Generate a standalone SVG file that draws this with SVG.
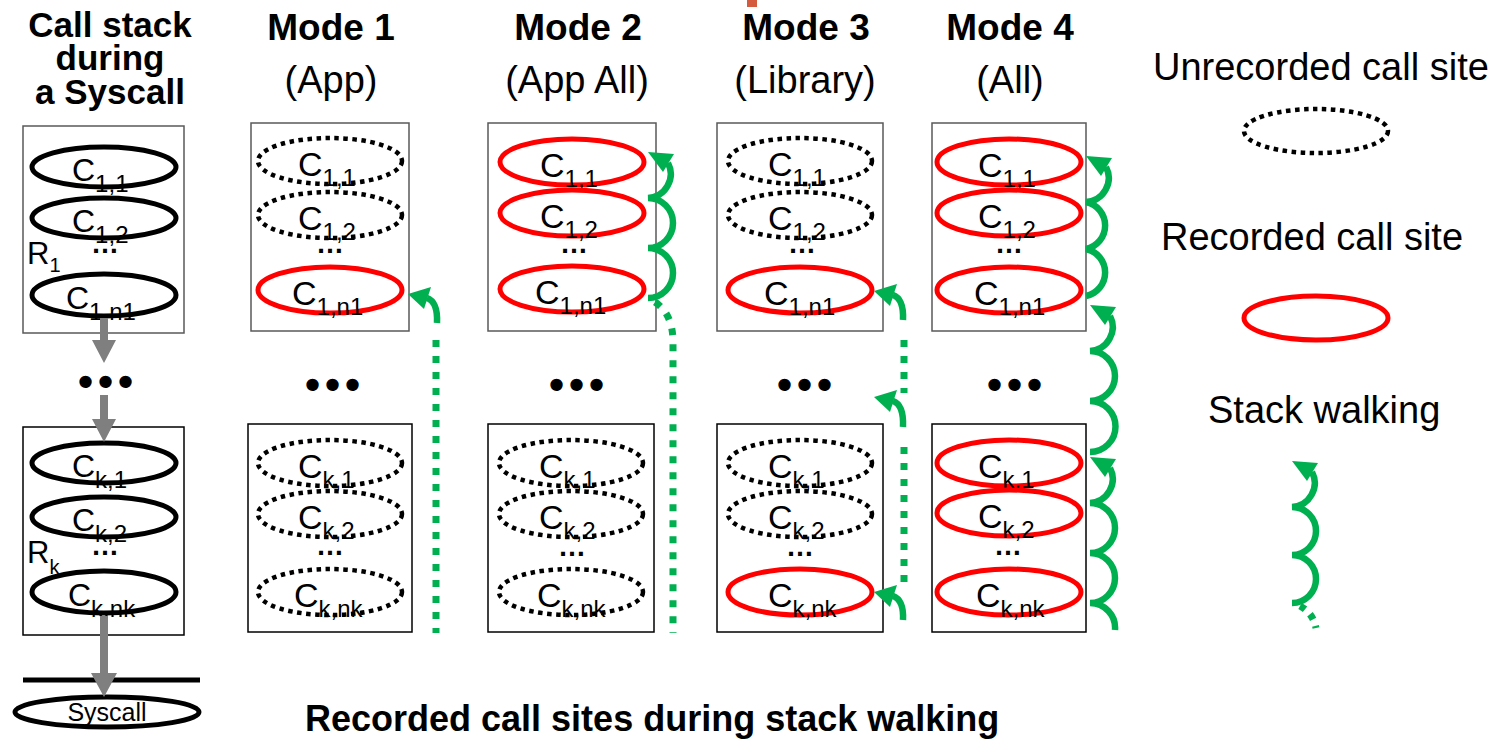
<svg xmlns="http://www.w3.org/2000/svg" width="1501" height="744" viewBox="0 0 1501 744">
<style>
text{font-family:"Liberation Sans",Arial,sans-serif;fill:#000}
.box{fill:none;stroke:#595959;stroke-width:1.5}
.boxk{fill:none;stroke:#000;stroke-width:1.5}
.solid{fill:none;stroke:#000;stroke-width:5}
.dot{fill:none;stroke:#000;stroke-width:4.5;stroke-dasharray:4.5 4.5}
.rec{fill:none;stroke:#FF0000;stroke-width:5}
.c{font-size:34px}
.cl{font-size:32px}
.s{font-size:24px}
.hd{font-weight:bold;font-size:37px;text-anchor:middle}
.sb{font-size:38px;text-anchor:middle}
.lg{font-size:38px}
.dd{font-weight:bold;font-size:28px;text-anchor:middle}
.bd{font-weight:bold;font-size:43px;letter-spacing:5px;text-anchor:middle}
.gw{fill:none;stroke:#00B050;stroke-width:6.5}
.gd{fill:none;stroke:#00B050;stroke-width:7;stroke-dasharray:7 9}
.gh{fill:#00B050}
.ga{fill:#7F7F7F}
</style>
<rect x="747" y="0" width="10" height="7" fill="#D55B3E"/>
<g id="headers">
<text class="hd" style="font-size:35px" x="110" y="37">Call stack</text>
<text class="hd" style="font-size:35px" x="110" y="70">during</text>
<text class="hd" style="font-size:35px" x="110" y="104">a Syscall</text>
<text class="hd" x="331" y="40">Mode 1</text>
<text class="sb" x="331" y="93">(App)</text>
<text class="hd" x="578" y="40">Mode 2</text>
<text class="sb" x="577" y="93">(App All)</text>
<text class="hd" x="806" y="40">Mode 3</text>
<text class="sb" x="805" y="93">(Library)</text>
<text class="hd" x="1010" y="40">Mode 4</text>
<text class="sb" x="1010" y="93">(All)</text>
</g>
<g id="box-l1"><rect class="box" x="23" y="126" width="161" height="207"/></g>
<g id="box-l2"><rect class="boxk" x="23" y="427" width="161" height="208"/></g>
<g id="box-m1a"><rect class="box" x="251" y="123" width="158" height="208"/></g>
<g id="box-m1b"><rect class="boxk" x="248" y="424" width="164" height="208"/></g>
<g id="box-m2a"><rect class="box" x="488" y="123" width="168" height="208"/></g>
<g id="box-m2b"><rect class="boxk" x="488" y="424" width="166" height="208"/></g>
<g id="box-m3a"><rect class="box" x="717" y="123" width="166" height="208"/></g>
<g id="box-m3b"><rect class="boxk" x="717" y="424" width="166" height="208"/></g>
<g id="box-m4a"><rect class="box" x="932" y="123" width="154" height="208"/></g>
<g id="box-m4b"><rect class="boxk" x="932" y="424" width="154" height="208"/></g>
<g id="l-c11"><ellipse class="solid" cx="104" cy="167" rx="72" ry="20"/><text class="cl" x="72" y="181">C<tspan class="s" dy="11">1,1</tspan></text></g>
<g id="l-c12"><ellipse class="solid" cx="104" cy="218" rx="72" ry="20"/><text class="cl" x="72" y="232">C<tspan class="s" dy="11">1,2</tspan></text></g>
<g id="l-c1n"><ellipse class="solid" cx="104" cy="295" rx="72" ry="21"/><text class="cl" x="66" y="309">C<tspan class="s" dy="11">1,n1</tspan></text></g>
<g id="l-ck1"><ellipse class="solid" cx="104" cy="463" rx="72" ry="20"/><text class="cl" x="72" y="477">C<tspan class="s" dy="11">k,1</tspan></text></g>
<g id="l-ck2"><ellipse class="solid" cx="104" cy="517" rx="72" ry="20"/><text class="cl" x="72" y="531">C<tspan class="s" dy="11">k,2</tspan></text></g>
<g id="l-ckn"><ellipse class="solid" cx="104" cy="592" rx="72" ry="21"/><text class="cl" x="68" y="606">C<tspan class="s" dy="11">k,nk</tspan></text></g>
<text class="dd" x="105" y="253">…</text>
<text class="dd" x="105" y="555">…</text>
<text style="font-size:31px" x="27" y="264">R<tspan style="font-size:20px" dy="8">1</tspan></text>
<text style="font-size:31px" x="27" y="563">R<tspan style="font-size:20px" dy="11">k</tspan></text>
<text class="bd" x="108" y="396">•••</text>
<line x1="23" y1="680" x2="200" y2="680" stroke="#000" stroke-width="5"/>
<g id="syscall"><ellipse class="solid" cx="107" cy="712" rx="92" ry="15"/><text x="107" y="721" style="font-size:25px;text-anchor:middle">Syscall</text></g>
<g id="m1-c11"><ellipse class="dot" cx="330" cy="161" rx="72" ry="23"/><text class="c" x="298" y="176">C<tspan class="s" dy="10">1,1</tspan></text></g>
<g id="m1-c12"><ellipse class="dot" cx="330" cy="215" rx="72" ry="23"/><text class="c" x="298" y="230">C<tspan class="s" dy="10">1,2</tspan></text></g>
<g id="m1-c1n"><ellipse class="rec" cx="330" cy="290" rx="72" ry="23"/><text class="c" x="292" y="305">C<tspan class="s" dy="10">1,n1</tspan></text></g>
<g id="m1-ck1"><ellipse class="dot" cx="330" cy="463" rx="72" ry="23"/><text class="c" x="298" y="478">C<tspan class="s" dy="10">k,1</tspan></text></g>
<g id="m1-ck2"><ellipse class="dot" cx="330" cy="514" rx="72" ry="23"/><text class="c" x="298" y="529">C<tspan class="s" dy="10">k,2</tspan></text></g>
<g id="m1-ckn"><ellipse class="dot" cx="330" cy="592" rx="72" ry="23"/><text class="c" x="294" y="607">C<tspan class="s" dy="10">k,nk</tspan></text></g>
<text class="dd" x="330" y="253">…</text>
<text class="dd" x="330" y="555">…</text>
<text class="bd" x="335" y="399">•••</text>
<g id="m2-c11"><ellipse class="rec" cx="572" cy="162" rx="72" ry="23"/><text class="c" x="540" y="177">C<tspan class="s" dy="10">1,1</tspan></text></g>
<g id="m2-c12"><ellipse class="rec" cx="572" cy="213" rx="72" ry="23"/><text class="c" x="540" y="228">C<tspan class="s" dy="10">1,2</tspan></text></g>
<g id="m2-c1n"><ellipse class="rec" cx="572" cy="289" rx="72" ry="23"/><text class="c" x="535" y="304">C<tspan class="s" dy="10">1,n1</tspan></text></g>
<g id="m2-ck1"><ellipse class="dot" cx="571" cy="463" rx="72" ry="23"/><text class="c" x="539" y="478">C<tspan class="s" dy="10">k,1</tspan></text></g>
<g id="m2-ck2"><ellipse class="dot" cx="571" cy="514" rx="72" ry="23"/><text class="c" x="539" y="529">C<tspan class="s" dy="10">k,2</tspan></text></g>
<g id="m2-ckn"><ellipse class="dot" cx="571" cy="592" rx="72" ry="23"/><text class="c" x="537" y="607">C<tspan class="s" dy="10">k,nk</tspan></text></g>
<text class="dd" x="574" y="253">…</text>
<text class="dd" x="572" y="556">…</text>
<text class="bd" x="579" y="399">•••</text>
<g id="m3-c11"><ellipse class="dot" cx="800" cy="161" rx="72" ry="23"/><text class="c" x="768" y="176">C<tspan class="s" dy="10">1,1</tspan></text></g>
<g id="m3-c12"><ellipse class="dot" cx="800" cy="215" rx="72" ry="23"/><text class="c" x="768" y="230">C<tspan class="s" dy="10">1,2</tspan></text></g>
<g id="m3-c1n"><ellipse class="rec" cx="800" cy="290" rx="72" ry="23"/><text class="c" x="764" y="305">C<tspan class="s" dy="10">1,n1</tspan></text></g>
<g id="m3-ck1"><ellipse class="dot" cx="800" cy="463" rx="72" ry="23"/><text class="c" x="768" y="478">C<tspan class="s" dy="10">k,1</tspan></text></g>
<g id="m3-ck2"><ellipse class="dot" cx="800" cy="514" rx="72" ry="23"/><text class="c" x="768" y="529">C<tspan class="s" dy="10">k,2</tspan></text></g>
<g id="m3-ckn"><ellipse class="rec" cx="800" cy="592" rx="72" ry="23"/><text class="c" x="768" y="607">C<tspan class="s" dy="10">k,nk</tspan></text></g>
<text class="dd" x="802" y="253">…</text>
<text class="dd" x="800" y="556">…</text>
<text class="bd" x="807" y="399">•••</text>
<g id="m4-c11"><ellipse class="rec" cx="1009" cy="162" rx="72" ry="23"/><text class="c" x="978" y="177">C<tspan class="s" dy="10">1,1</tspan></text></g>
<g id="m4-c12"><ellipse class="rec" cx="1009" cy="213" rx="72" ry="23"/><text class="c" x="978" y="228">C<tspan class="s" dy="10">1,2</tspan></text></g>
<g id="m4-c1n"><ellipse class="rec" cx="1009" cy="290" rx="72" ry="23"/><text class="c" x="974" y="305">C<tspan class="s" dy="10">1,n1</tspan></text></g>
<g id="m4-ck1"><ellipse class="rec" cx="1009" cy="463" rx="72" ry="23"/><text class="c" x="978" y="478">C<tspan class="s" dy="10">k,1</tspan></text></g>
<g id="m4-ck2"><ellipse class="rec" cx="1009" cy="513" rx="72" ry="23"/><text class="c" x="978" y="528">C<tspan class="s" dy="10">k,2</tspan></text></g>
<g id="m4-ckn"><ellipse class="rec" cx="1009" cy="592" rx="72" ry="23"/><text class="c" x="976" y="607">C<tspan class="s" dy="10">k,nk</tspan></text></g>
<text class="dd" x="1009" y="253">…</text>
<text class="dd" x="1008" y="555">…</text>
<text class="bd" x="1017" y="399">•••</text>
<g id="legend">
<text class="lg" x="1153" y="80">Unrecorded call site</text>
<ellipse class="dot" cx="1316" cy="131" rx="72" ry="22"/>
<text class="lg" x="1161" y="250">Recorded call site</text>
<ellipse class="rec" cx="1316" cy="318" rx="72" ry="22"/>
<text class="lg" x="1208" y="423">Stack walking</text>
</g>
<text x="305" y="731" style="font-weight:bold;font-size:36px">Recorded call sites during stack walking</text>
<g id="connectors">
<polygon class="ga" points="100,318 108,318 108,340 116,340 104,363 92,340 100,340"/>
<polygon class="ga" points="100,395 108,395 108,419 116,419 104,442 92,419 100,419"/>
<polygon class="ga" points="100,616 108,616 108,673 117,673 104,697 91,673 100,673"/>
<path class="gd" d="M436,340 L436,633"/>
<path class="gw" d="M427,298 Q438,302 437,323"/>
<polygon class="gh" points="408,294 431,287 424,309"/>
<path class="gw" d="M648,298 A25,25 0 0 0 648,248 A25,25 0 0 0 648,198 A24,24 0 0 0 668,163"/>
<polygon class="gh" points="648,152 674,154 663,172"/>
<path class="gd" d="M655,302 Q673,314 673,342 L673,633"/>
<path class="gd" d="M904,340 L904,393"/>
<path class="gd" d="M904,447 L904,582"/>
<path class="gw" d="M893,295 Q904,299 903,320"/>
<polygon class="gh" points="874,291 897,284 890,306"/>
<path class="gw" d="M893,401 Q904,405 903,427"/>
<polygon class="gh" points="874,397 897,390 890,412"/>
<path class="gw" d="M893,596 Q904,600 903,620"/>
<polygon class="gh" points="874,592 897,585 890,607"/>
<path class="gw" d="M1086,296 A24,24 0 0 0 1086,249 A24,24 0 0 0 1086,202 A24,24 0 0 0 1106,167"/>
<polygon class="gh" points="1086,156 1112,158 1101,176"/>
<path class="gw" d="M1090,452 A25,25 0 0 0 1090,401 A25,25 0 0 0 1090,351 A24,24 0 0 0 1110,316"/>
<polygon class="gh" points="1090,305 1116,307 1105,325"/>
<path class="gw" d="M1115,630 A25,25 0 0 0 1090,603 A25,25 0 0 0 1090,553 A25,25 0 0 0 1090,503 A24,24 0 0 0 1110,468"/>
<polygon class="gh" points="1090,457 1116,459 1105,477"/>
<path class="gw" d="M1292,603 A24,24 0 0 0 1292,555 A24,24 0 0 0 1292,507 A24,24 0 0 0 1312,472"/>
<polygon class="gh" points="1292,461 1318,463 1307,481"/>
<path class="gd" d="M1300,606 Q1313,613 1316,628" style="stroke-dasharray:6 7"/>
</g>
</svg>
